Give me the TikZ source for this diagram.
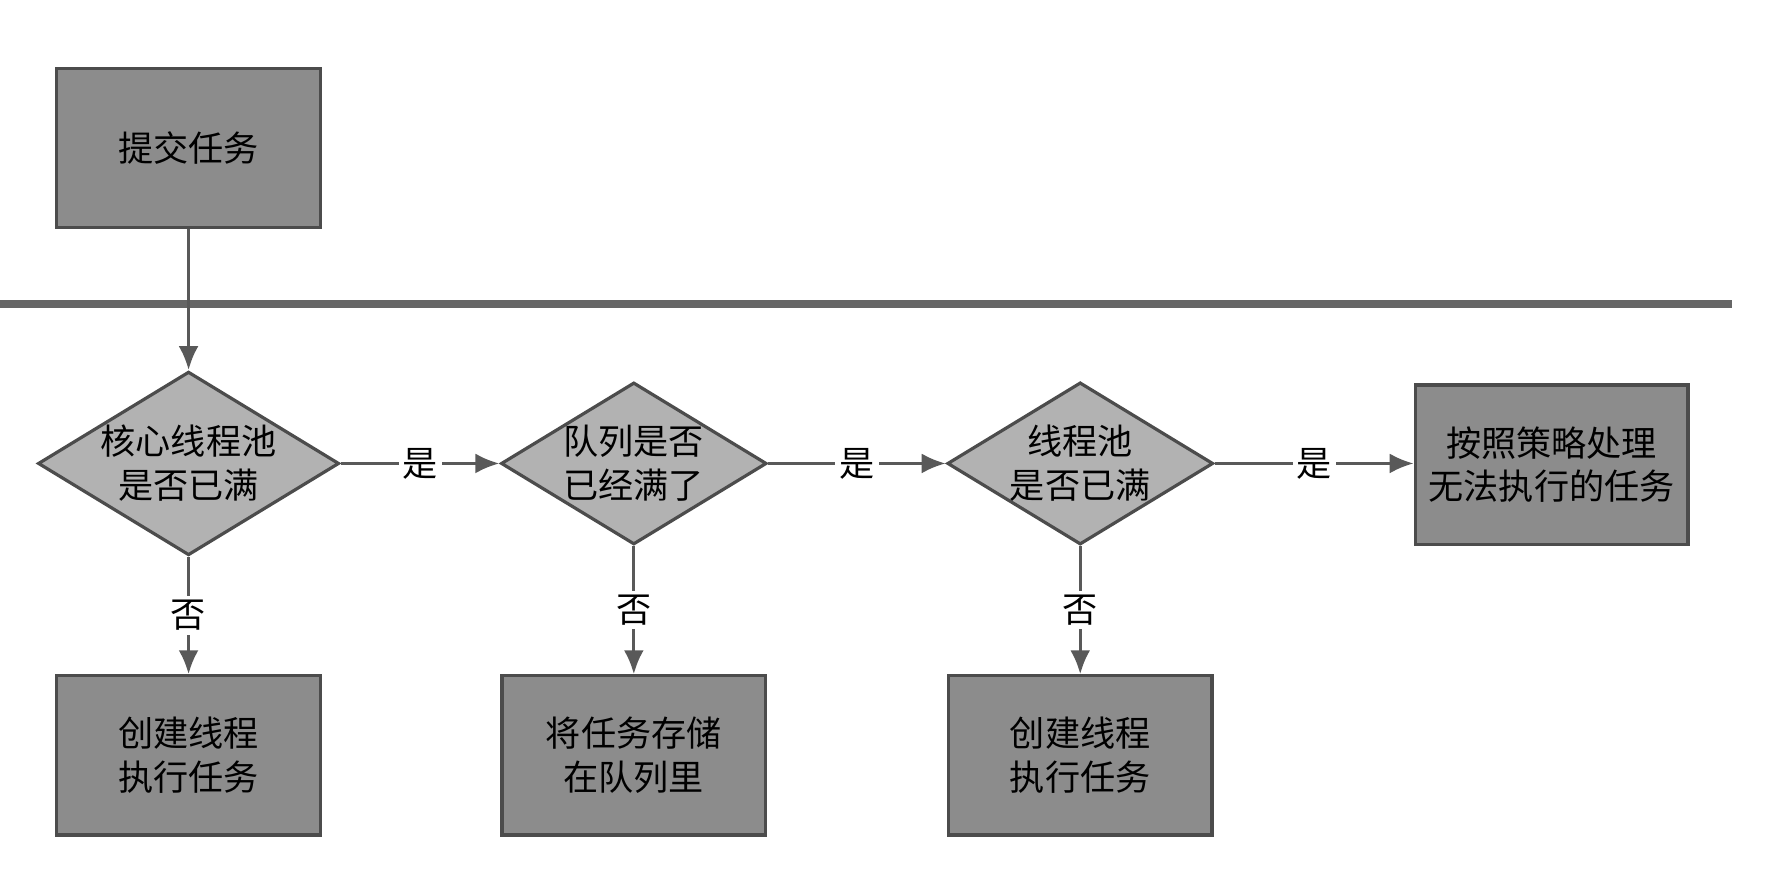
\documentclass[tikz,border=0pt]{standalone}
\usepackage{fontspec}
\setmainfont{Noto Sans CJK SC}
\usetikzlibrary{shapes.geometric,arrows.meta}
\begin{document}
\begin{tikzpicture}[x=0.01cm,y=-0.01cm,
  box/.style={draw=black!70,line width=0.8pt,fill=black!45,minimum width=2.32cm,minimum height=1.4cm,align=center,font=\fontsize{8.8pt}{11pt}\selectfont},
  dia/.style={draw=black!70,line width=0.8pt,fill=black!30,diamond,minimum width=2.3cm,minimum height=1.4cm,aspect=1.64,inner sep=0pt,align=center,font=\fontsize{8.8pt}{11pt}\selectfont},
  arr/.style={draw=black!65,line width=0.8pt,-{Latex[length=6pt,width=5pt]}},
  lab/.style={fill=white,inner sep=1pt,font=\fontsize{8.8pt}{11pt}\selectfont}]
\useasboundingbox (0,0) rectangle (1560,772);
\draw[black!60,line width=2pt] (0,268) -- (1525,268);
\node[box] (s) at (166,130) {提交任务};
\node[dia] (d1) at (166,408) {核心线程池\\是否已满};
\node[dia] (d2) at (558,408) {队列是否\\已经满了};
\node[dia] (d3) at (951,408) {线程池\\是否已满};
\node[box] (r) at (1366,409) {按照策略处理\\无法执行的任务};
\node[box] (b1) at (166,665) {创建线程\\执行任务};
\node[box] (b2) at (558,665) {将任务存储\\在队列里};
\node[box] (b3) at (951,665) {创建线程\\执行任务};
\draw[arr] (s) -- (d1);
\draw[arr] (d1) -- node[lab]{是} (d2);
\draw[arr] (d2) -- node[lab]{是} (d3);
\draw[arr] (d3) -- node[lab,pos=0.5]{是} (r.west|-d3);
\draw[arr] (d1) -- node[lab]{否} (b1);
\draw[arr] (d2) -- node[lab]{否} (b2);
\draw[arr] (d3) -- node[lab]{否} (b3);
\end{tikzpicture}
\end{document}
